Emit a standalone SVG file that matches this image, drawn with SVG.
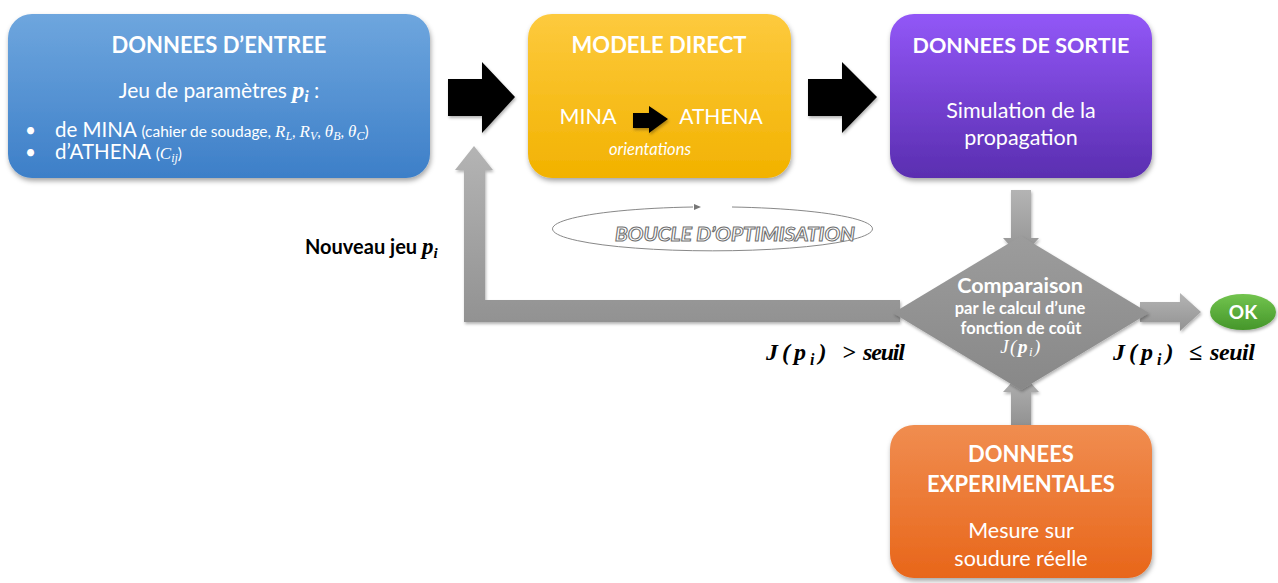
<svg xmlns="http://www.w3.org/2000/svg" width="1278" height="583" viewBox="0 0 1278 583">
<defs>
<linearGradient id="gBlue" x1="0" y1="0" x2="0" y2="1"><stop offset="0" stop-color="#6ea6de"/><stop offset="1" stop-color="#3d7fc8"/></linearGradient>
<linearGradient id="gYel" x1="0" y1="0" x2="0" y2="1"><stop offset="0" stop-color="#fdca3e"/><stop offset="1" stop-color="#f2b200"/></linearGradient>
<linearGradient id="gPur" x1="0" y1="0" x2="0" y2="1"><stop offset="0" stop-color="#9257f7"/><stop offset="1" stop-color="#5a2eb0"/></linearGradient>
<linearGradient id="gOra" x1="0" y1="0" x2="0" y2="1"><stop offset="0" stop-color="#f08d50"/><stop offset="1" stop-color="#e8661a"/></linearGradient>
<linearGradient id="gGrn" x1="0" y1="0" x2="0" y2="1"><stop offset="0" stop-color="#72c44e"/><stop offset="1" stop-color="#45962a"/></linearGradient>
<linearGradient id="gGray" x1="0" y1="0" x2="0" y2="1"><stop offset="0" stop-color="#b4b4b4"/><stop offset="1" stop-color="#929292"/></linearGradient>
<linearGradient id="gDia" x1="0" y1="0" x2="0" y2="1"><stop offset="0" stop-color="#9c9c9c"/><stop offset="1" stop-color="#888888"/></linearGradient>
<filter id="sh" x="-10%" y="-10%" width="120%" height="130%"><feDropShadow dx="1" dy="3" stdDeviation="2.5" flood-color="#000" flood-opacity="0.35"/></filter>
<filter id="sh2" x="-10%" y="-10%" width="120%" height="130%"><feDropShadow dx="1" dy="2" stdDeviation="1.5" flood-color="#000" flood-opacity="0.3"/></filter>
</defs>
<style>
.t{font-family:Lato,"Open Sans","Liberation Sans",sans-serif;fill:#fff}
.b{font-weight:bold}
.m{font-family:"Liberation Serif","DejaVu Serif",serif;font-style:italic}
.k{font-family:Lato,"Open Sans","Liberation Sans",sans-serif;fill:#000}
.lbl{font-family:"Liberation Serif","DejaVu Serif",serif;font-style:italic;font-weight:bold;fill:#000;font-size:24px}
</style>
<rect width="1278" height="583" fill="#fff"/>

<g id="connectors">
<path d="M474,146 L493,170 L485,170 L485,300 L900,300 L900,322 L464,322 L464,170 L455,170 Z" fill="url(#gGray)" filter="url(#sh2)"/>
<path d="M448,79 L482,79 L482,62 L515,97 L482,133 L482,116 L448,116 Z" fill="#000" filter="url(#sh2)"/>
<path d="M808,79 L842,79 L842,62 L877,97 L842,133 L842,116 L808,116 Z" fill="#000" filter="url(#sh2)"/>
<path d="M1011,190 L1031,190 L1031,238 L1039,238 L1021,258 L1003,238 L1011,238 Z" fill="url(#gGray)" filter="url(#sh2)"/>
<path d="M1011,425 L1031,425 L1031,392 L1039,392 L1021,372 L1003,392 L1011,392 Z" fill="url(#gGray)" filter="url(#sh2)"/>
<path d="M1140,302 L1180,302 L1180,293 L1201,312 L1180,331 L1180,322 L1140,322 Z" fill="url(#gGray)" filter="url(#sh2)"/>
<path d="M693,207 A160,22 0 1 0 732,207" fill="none" stroke="#888" stroke-width="1"/>
<path d="M694,204 L701,207 L694,210 Z" fill="#777"/>
</g>

<g id="n-entree">
<rect x="8" y="14" width="422" height="164" rx="24" fill="url(#gBlue)" filter="url(#sh)"/>
<text class="t b" x="219" y="53" font-size="22" text-anchor="middle">DONNEES D’ENTREE</text>
<text class="t" x="219" y="98" font-size="21" text-anchor="middle">Jeu de paramètres <tspan class="m" font-weight="bold" font-size="24">p</tspan><tspan class="m" font-weight="bold" font-size="16" dy="4">i</tspan><tspan dy="-4"> :</tspan></text>
<text class="t" x="25" y="137" font-size="19">•</text>
<text class="t" x="55" y="137" font-size="20.5">de MINA <tspan font-size="15.5">(cahier de soudage, </tspan><tspan class="m" font-size="17">R</tspan><tspan class="m" font-size="12" dy="3">L</tspan><tspan font-size="15.5" dy="-3">, </tspan><tspan class="m" font-size="17">R</tspan><tspan class="m" font-size="12" dy="3">V</tspan><tspan font-size="15.5" dy="-3">, </tspan><tspan class="m" font-size="17">θ</tspan><tspan class="m" font-size="12" dy="3">B</tspan><tspan font-size="15.5" dy="-3">, </tspan><tspan class="m" font-size="17">θ</tspan><tspan class="m" font-size="12" dy="3">C</tspan><tspan font-size="15.5" dy="-3">)</tspan></text>
<text class="t" x="25" y="159" font-size="19">•</text>
<text class="t" x="55" y="159" font-size="20.5">d’ATHENA <tspan font-size="15.5">(</tspan><tspan class="m" font-size="17">C</tspan><tspan class="m" font-size="12" dy="3">ij</tspan><tspan font-size="15.5" dy="-3">)</tspan></text>
</g>

<g id="n-modele">
<rect x="528" y="14" width="263" height="164" rx="24" fill="url(#gYel)" filter="url(#sh)"/>
<text class="t b" x="659" y="53" font-size="22" text-anchor="middle">MODELE DIRECT</text>
<text class="t" x="588" y="124" font-size="21.5" text-anchor="middle">MINA</text>
<path d="M633,113 L649,113 L649,106 L668,119 L649,133 L649,128 L633,128 Z" fill="#000" filter="url(#sh2)"/>
<text class="t" x="721" y="124" font-size="21" text-anchor="middle">ATHENA</text>
<text class="t" x="650" y="155" font-size="16.5" font-style="italic" text-anchor="middle">orientations</text>
</g>

<g id="n-sortie">
<rect x="890" y="14" width="262" height="164" rx="24" fill="url(#gPur)" filter="url(#sh)"/>
<text class="t b" x="1021" y="53" font-size="21.5" text-anchor="middle">DONNEES DE SORTIE</text>
<text class="t" x="1021" y="118" font-size="21.5" text-anchor="middle">Simulation de la</text>
<text class="t" x="1021" y="145" font-size="21.5" text-anchor="middle">propagation</text>
</g>

<g id="n-comparaison">
<path d="M1021,236 L1149,313 L1021,390 L893,313 Z" fill="url(#gDia)" filter="url(#sh2)"/>
<text class="t b" x="1020" y="293" font-size="21.5" text-anchor="middle">Comparaison</text>
<text class="t b" x="1020" y="314" font-size="16.5" text-anchor="middle">par le calcul d’une</text>
<text class="t b" x="1021" y="334" font-size="16.5" text-anchor="middle">fonction de coût</text>
<text class="t m" x="1021" y="353" font-size="19" text-anchor="middle" letter-spacing="1.5">J(<tspan font-weight="bold">p</tspan><tspan font-size="13" dy="3">i</tspan><tspan dy="-3">)</tspan></text>
</g>

<g id="n-experimentales">
<rect x="890" y="425" width="262" height="153" rx="24" fill="url(#gOra)" filter="url(#sh)"/>
<text class="t b" x="1021" y="462" font-size="22" text-anchor="middle">DONNEES</text>
<text class="t b" x="1021" y="492" font-size="22" text-anchor="middle">EXPERIMENTALES</text>
<text class="t" x="1021" y="538" font-size="21.5" text-anchor="middle">Mesure sur</text>
<text class="t" x="1021" y="566" font-size="21.5" text-anchor="middle">soudure réelle</text>
</g>

<g id="n-ok">
<ellipse cx="1243" cy="312" rx="33" ry="18" fill="url(#gGrn)" filter="url(#sh2)"/>
<text class="t b" x="1243" y="319" font-size="19" text-anchor="middle">OK</text>
</g>

<g id="labels">
<text class="k b" x="305" y="254" font-size="20">Nouveau jeu <tspan class="m" font-weight="bold" font-size="23">p</tspan><tspan class="m" font-weight="bold" font-size="15" dy="4">i</tspan></text>
<text class="t b" x="615" y="241" font-size="19" font-style="italic" fill="#fff" stroke="#6f6f6f" stroke-width="1" textLength="240" lengthAdjust="spacingAndGlyphs">BOUCLE D’OPTIMISATION</text>
<text class="lbl" x="766" y="360" letter-spacing="4">J(p<tspan font-size="16" dy="5">i</tspan><tspan dy="-5">)</tspan></text>
<text class="lbl" x="842" y="360">&gt;</text>
<text class="lbl" x="863" y="360" textLength="42">seuil</text>
<text class="lbl" x="1113" y="360" letter-spacing="4">J(p<tspan font-size="16" dy="5">i</tspan><tspan dy="-5">)</tspan></text>
<text class="lbl" x="1189" y="360">≤</text>
<text class="lbl" x="1210" y="360" textLength="45">seuil</text>
</g>
</svg>
